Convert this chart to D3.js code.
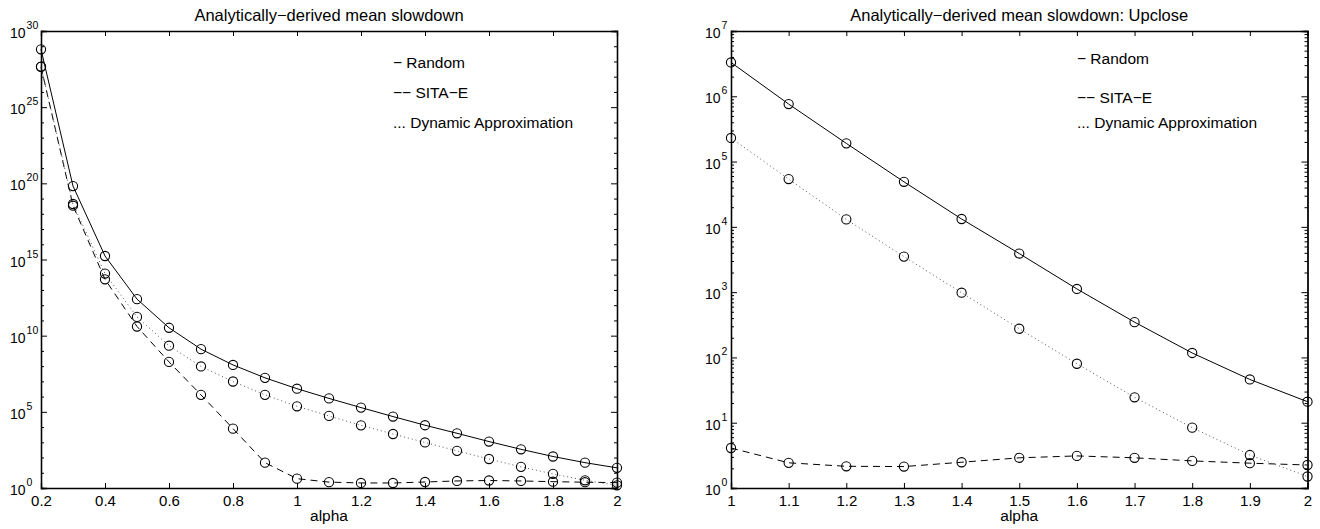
<!DOCTYPE html>
<html>
<head>
<meta charset="utf-8">
<script src="https://cdn.jsdelivr.net/npm/d3@7"></script>
<style>
  html, body { margin: 0; padding: 0; background: #fff; }
  svg { display: block; font-family: "Liberation Sans", Arial, Helvetica, sans-serif; }
</style>
</head>
<body>
<svg id="chart" width="1320" height="529"></svg>
<script>
// ---- data ----
const alpha = [0.2, 0.3, 0.4, 0.5, 0.6, 0.7, 0.8, 0.9, 1.0, 1.1, 1.2, 1.3, 1.4, 1.5, 1.6, 1.7, 1.8, 1.9, 2.0];
const randomSlowdown  = [6.3e28, 6.6e19, 1.7e15, 2.5e12, 3.3e10, 1.3e9, 1.2e8, 1.7e7, 3.3e6, 7.6e5, 1.9e5, 4.9e4, 1.32e4, 3.9e3, 1.12e3, 347, 117, 46, 21];
const sitaSlowdown    = [4.4e27, 3.4e18, 5.0e13, 4.0e10, 1.9e8, 1.3e6, 7.9e3, 46, 4.1, 2.43, 2.15, 2.13, 2.48, 2.9, 3.1, 2.9, 2.6, 2.4, 2.25];
const dynamicSlowdown = [4.6e27, 4.4e18, 1.2e14, 1.7e11, 2.2e9, 9.5e7, 9.8e6, 1.3e6, 2.3e5, 5.4e4, 1.3e4, 3.5e3, 980, 275, 80, 24.5, 8.4, 3.2, 1.5];

const leftXTicks  = [0.2, 0.4, 0.6, 0.8, 1, 1.2, 1.4, 1.6, 1.8, 2];
const leftXLabels = ["0.2", "0.4", "0.6", "0.8", "1", "1.2", "1.4", "1.6", "1.8", "2"];
const rightXTicks  = [1, 1.1, 1.2, 1.3, 1.4, 1.5, 1.6, 1.7, 1.8, 1.9, 2];
const rightXLabels = ["1", "1.1", "1.2", "1.3", "1.4", "1.5", "1.6", "1.7", "1.8", "1.9", "2"];
const leftYExponents  = [0, 5, 10, 15, 20, 25, 30];
const rightYExponents = [0, 1, 2, 3, 4, 5, 6, 7];

const legendLabels = ["\u2212 Random", "\u2212\u2212 SITA\u2212E", "... Dynamic Approximation"];
const titles = ["Analytically\u2212derived mean slowdown", "Analytically\u2212derived mean slowdown: Upclose"];
const xLabel = "alpha";

// ---- drawing ----
const svg = d3.select("#chart");
const FONT = "\"Liberation Sans\", Arial, Helvetica, sans-serif";

const series = [
  { values: randomSlowdown,  dash: null,  width: 1.0, color: "#000" },
  { values: sitaSlowdown,    dash: "7,5", width: 1.0, color: "#000" },
  { values: dynamicSlowdown, dash: "1,3", width: 1.0, color: "#555" }
];

function drawPanel(cfg) {
  const g = svg.append("g");
  const x = d3.scaleLinear().domain(cfg.xDomain).range([cfg.left, cfg.right]);
  const y = d3.scaleLog().domain(cfg.yDomain).range([cfg.bottom, cfg.top]);

  // minor y ticks
  const minorVals = [];
  const [e0, e1] = [Math.log10(cfg.yDomain[0]), Math.log10(cfg.yDomain[1])];
  if (cfg.minorPerDecade) {
    for (let e = e0; e < e1; e++) for (let k = 2; k <= 9; k++) minorVals.push(k * Math.pow(10, e));
  } else {
    for (let e = e0; e <= e1; e++) if (!cfg.yExps.includes(e)) minorVals.push(Math.pow(10, e));
  }
  const majorVals = cfg.yExps.map(e => Math.pow(10, e));

  // axes: bottom with labels
  const bottomAxis = d3.axisBottom(x).tickValues(cfg.xTicks)
    .tickFormat((d, i) => cfg.xLabels[i]).tickSize(-5).tickPadding(7);
  const gb = g.append("g").attr("transform", `translate(0,${cfg.bottom})`).call(bottomAxis);
  gb.selectAll("text").attr("font-size", 15).attr("font-family", FONT).attr("fill", "#000");

  const topAxis = d3.axisTop(x).tickValues(cfg.xTicks).tickFormat("").tickSize(-5);
  g.append("g").attr("transform", `translate(0,${cfg.top})`).call(topAxis);

  const leftMajor = d3.axisLeft(y).tickValues(majorVals).tickFormat("").tickSize(-6);
  const leftMinor = d3.axisLeft(y).tickValues(minorVals).tickFormat("").tickSize(-3);
  const rightMajor = d3.axisRight(y).tickValues(majorVals).tickFormat("").tickSize(-6);
  const rightMinor = d3.axisRight(y).tickValues(minorVals).tickFormat("").tickSize(-3);
  g.append("g").attr("transform", `translate(${cfg.left},0)`).call(leftMajor);
  g.append("g").attr("transform", `translate(${cfg.left},0)`).call(leftMinor);
  g.append("g").attr("transform", `translate(${cfg.right},0)`).call(rightMajor);
  g.append("g").attr("transform", `translate(${cfg.right},0)`).call(rightMinor);

  g.selectAll(".domain").attr("stroke", "#000").attr("stroke-width", 1.3);
  g.selectAll(".tick line").attr("stroke", "#000").attr("stroke-width", 1);

  // y tick labels 10^n
  cfg.yExps.forEach(e => {
    const yy = y(Math.pow(10, e));
    const t = g.append("text").attr("x", cfg.labelX).attr("y", yy + 7)
      .attr("font-family", FONT).attr("font-size", 14).attr("fill", "#000");
    t.append("tspan").text("10");
    t.append("tspan").attr("font-size", 10.5).attr("dy", -9).attr("dx", 1).text(String(e));
  });

  // lines and markers
  const xs = alpha.map((a, i) => i).filter(i => alpha[i] >= cfg.xDomain[0] - 1e-9);
  const line = d3.line().x(i => x(alpha[i])).curve(d3.curveLinear);
  series.forEach(s => {
    line.y(i => y(s.values[i]));
    g.append("path").attr("d", line(xs)).attr("fill", "none")
      .attr("stroke", s.color).attr("stroke-width", s.width)
      .attr("stroke-dasharray", s.dash);
    g.append("g").selectAll("circle").data(xs).join("circle")
      .attr("cx", i => x(alpha[i])).attr("cy", i => y(s.values[i]))
      .attr("r", 4.6).attr("fill", "none").attr("stroke", "#000").attr("stroke-width", 1.1);
  });

  // title and x label
  const cx = (cfg.left + cfg.right) / 2;
  g.append("text").attr("x", cx).attr("y", 20.5).attr("text-anchor", "middle")
    .attr("font-family", FONT).attr("font-size", 16.5).text(cfg.title);
  g.append("text").attr("x", cx).attr("y", 521).attr("text-anchor", "middle")
    .attr("font-family", FONT).attr("font-size", 15.5).text(xLabel);

  // legend (text only)
  legendLabels.forEach((lab, i) => {
    g.append("text").attr("x", cfg.legendX).attr("y", cfg.legendY[i])
      .attr("font-family", FONT).attr("font-size", 15.5).text(lab);
  });
}

drawPanel({
  left: 41, right: 617, top: 31, bottom: 488,
  xDomain: [0.2, 2], yDomain: [1, 1e30],
  xTicks: leftXTicks, xLabels: leftXLabels, yExps: leftYExponents,
  minorPerDecade: false, labelX: 10,
  title: titles[0], legendX: 393, legendY: [67.5, 98, 127.5]
});

drawPanel({
  left: 731, right: 1307.5, top: 31, bottom: 488,
  xDomain: [1, 2], yDomain: [1, 1e7],
  xTicks: rightXTicks, xLabels: rightXLabels, yExps: rightYExponents,
  minorPerDecade: true, labelX: 705,
  title: titles[1], legendX: 1077, legendY: [64, 103, 128]
});
</script>
</body>
</html>
